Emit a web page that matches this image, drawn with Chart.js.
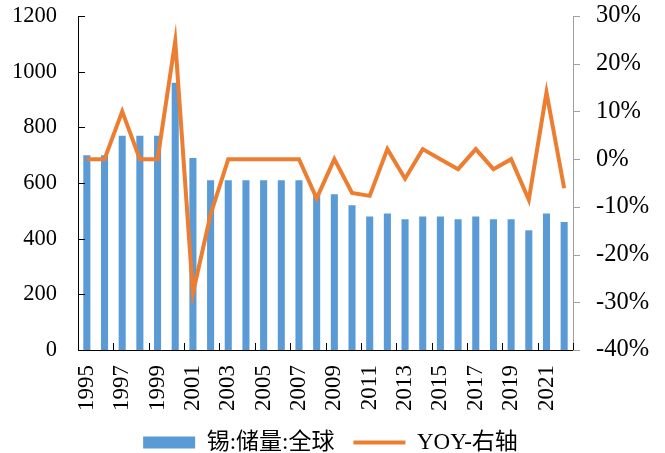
<!DOCTYPE html>
<html>
<head>
<meta charset="utf-8">
<script src="https://cdn.jsdelivr.net/npm/chart.js@4"></script>
<style>
  html, body { margin: 0; padding: 0; background: #fff; }
  #wrap { width: 665px; height: 453px; position: relative; }
</style>
</head>
<body>
<div id="wrap"><canvas id="myChart"></canvas></div>
<script>
// data block
const years = ["1995","1996","1997","1998","1999","2000","2001","2002","2003","2004",
  "2005","2006","2007","2008","2009","2010","2011","2012","2013","2014",
  "2015","2016","2017","2018","2019","2020","2021","2022"];
const reserves = [700, 700, 770, 770, 770, 960, 690, 610, 610, 610,
  610, 610, 610, 560, 560, 520, 480, 490, 470, 480,
  480, 470, 480, 470, 470, 430, 490, 460]; // 锡:储量:全球
const yoy = [0, 0, 10, 0, 0, 24.7, -28.1, -11.6, 0, 0,
  0, 0, 0, -8.2, 0, -7.1, -7.7, 2.1, -4.1, 2.1,
  0, -2.1, 2.1, -2.1, 0, -8.5, 14, -6.1]; // YOY-右轴, in %
const leftTicks = { min: 0, max: 1200, step: 200 };
const rightTicks = { min: -40, max: 30, step: 10 };

const serif = '"Liberation Serif", "Noto Sans CJK SC", serif';

// small tick marks like the original (left inward, right outward, x every 2 years upward)
const tickMarks = {
  id: "tickMarks",
  afterDatasetsDraw(chart) {
    const { ctx } = chart;
    const x = chart.scales.x, y = chart.scales.y, y1 = chart.scales.y1;
    ctx.save();
    ctx.lineWidth = 1;
    ctx.strokeStyle = "#000";
    ctx.beginPath();
    y.ticks.forEach((t, i) => {
      const py = Math.round(y.getPixelForTick(i)) + 0.5;
      ctx.moveTo(x.left, py);
      ctx.lineTo(x.left + 7, py);
    });
    for (let i = 2; i <= years.length; i += 2) {
      const px = Math.round(x.getPixelForValue(i - 0.5)) + 0.5;
      ctx.moveTo(px, y.bottom);
      ctx.lineTo(px, y.bottom - 7);
    }
    ctx.stroke();
    ctx.strokeStyle = "#a0a0a0";
    ctx.beginPath();
    y1.ticks.forEach((t, i) => {
      const py = Math.round(y1.getPixelForTick(i)) + 0.5;
      ctx.moveTo(y1.left, py);
      ctx.lineTo(y1.left + 7, py);
    });
    ctx.stroke();
    ctx.restore();
  },
};

// fixed axis sizes so the plot area sits where the original has it
function fixVertical(w) {
  return (s) => { s.width = w; s.paddingTop = 0; s.paddingBottom = 0; };
}

// setup block
const data = {
  labels: years,
  datasets: [
    {
      type: "bar",
      label: "锡:储量:全球",
      data: reserves,
      backgroundColor: "#5b9bd5",
      borderWidth: 0,
      barPercentage: 0.4,
      categoryPercentage: 1,
      pointStyle: "rect",
      yAxisID: "y",
      order: 1,
    },
    {
      type: "line",
      label: "YOY-右轴",
      data: yoy,
      borderColor: "#ed7d31",
      backgroundColor: "#ed7d31",
      borderWidth: 4,
      pointRadius: 0,
      pointStyle: "line",
      tension: 0,
      yAxisID: "y1",
      order: 0,
    },
  ],
};

// config block
const config = {
  data,
  options: {
    responsive: true,
    maintainAspectRatio: false,
    animation: false,
    layout: { padding: { left: 12, right: 16, top: 16, bottom: -11 } },
    plugins: {
      tooltip: { enabled: false },
      legend: {
        position: "bottom",
        labels: {
          usePointStyle: true,
          pointStyleWidth: 52,
          boxHeight: 12,
          padding: 19,
          color: "#000",
          font: { family: serif, size: 23 },
          sort: (a, b) => a.datasetIndex - b.datasetIndex,
        },
      },
    },
    scales: {
      x: {
        grid: { display: false, drawTicks: false },
        border: { display: true, color: "#000", width: 1 },
        afterFit: (s) => { s.height = 62; },
        ticks: {
          autoSkip: false,
          minRotation: 90,
          maxRotation: 90,
          padding: 15,
          color: "#000",
          font: { family: serif, size: 23 },
          callback: (v, i) => (i % 2 === 0 ? years[i] : ""),
        },
      },
      y: {
        position: "left",
        min: leftTicks.min,
        max: leftTicks.max,
        grid: { display: false, drawTicks: false },
        border: { display: true, color: "#000", width: 1 },
        afterFit: fixVertical(66),
        ticks: {
          stepSize: leftTicks.step,
          padding: 21,
          color: "#000",
          font: { family: serif, size: 22.5 },
          callback: (v) => String(v),
        },
      },
      y1: {
        position: "right",
        min: rightTicks.min,
        max: rightTicks.max,
        grid: { display: false, drawTicks: false },
        border: { display: true, color: "#a0a0a0", width: 1 },
        afterFit: fixVertical(76),
        ticks: {
          stepSize: rightTicks.step,
          padding: 23,
          color: "#000",
          font: { family: serif, size: 24.5 },
          callback: (v) => v + "%",
        },
      },
    },
  },
  plugins: [tickMarks],
};

// render init block
const myChart = new Chart(document.getElementById("myChart"), config);
</script>
</body>
</html>
